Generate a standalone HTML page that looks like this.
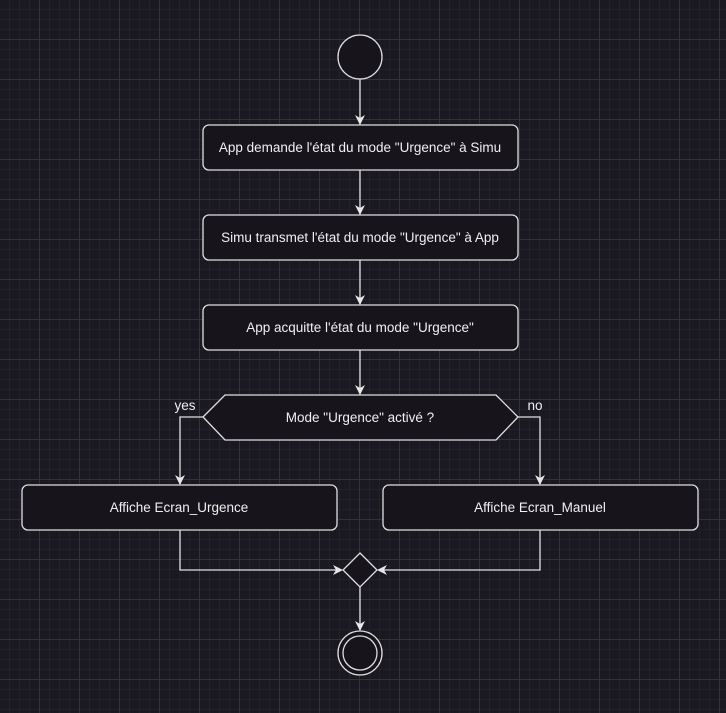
<!DOCTYPE html>
<html><head><meta charset="utf-8"><style>
html,body{margin:0;padding:0;}
body{width:726px;height:713px;overflow:hidden;background-color:#1a1820;
background-image:linear-gradient(#33313a 1px,transparent 1px),linear-gradient(90deg,#33313a 1px,transparent 1px),linear-gradient(#22202a 1px,transparent 1px),linear-gradient(90deg,#22202a 1px,transparent 1px);
background-size:40px 40px,40px 40px,10px 10px,10px 10px;background-position:-1px -1px;}
svg{position:absolute;left:0;top:0;}
text{font-family:"Liberation Sans",Arial,sans-serif;font-size:13.5px;fill:#f0f0f0;}
</style></head><body>
<svg width="726" height="713" viewBox="0 0 726 713">
<defs><marker id="a" markerWidth="10" markerHeight="10" refX="9" refY="5" orient="auto" markerUnits="userSpaceOnUse"><path d="M0,0 L10,5 L0,10 L3,5 z" fill="#e8e8e8"/></marker></defs>
<g stroke="#e0e0e0" stroke-width="1.3" fill="#17141c">
<circle cx="360" cy="57" r="22"/>
<rect x="203" y="125" width="315" height="45" rx="6"/>
<rect x="203" y="215" width="315" height="45" rx="6"/>
<rect x="203" y="305" width="315" height="45" rx="6"/>
<polygon points="203,417 225,395 496,395 518,417 496,440 225,440"/>
<rect x="22" y="485" width="315" height="45" rx="6"/>
<rect x="383" y="485" width="315" height="45" rx="6"/>
<polygon points="360,553 377,570 360,587 343,570"/>
<circle cx="360" cy="653" r="22"/>
<circle cx="360" cy="653" r="17"/>
</g>
<g stroke="#e0e0e0" stroke-width="1.3" fill="none" marker-end="url(#a)">
<path d="M360,79 V124"/>
<path d="M360,170 V214"/>
<path d="M360,260 V304"/>
<path d="M360,350 V394"/>
<path d="M203,417 H180 V484"/>
<path d="M518,417 H540 V484"/>
<path d="M180,530 V570 H342"/>
<path d="M540,530 V570 H378"/>
<path d="M360,587 V630"/>
</g>
<g text-anchor="middle">
<text x="360" y="152">App demande l'état du mode "Urgence" à Simu</text>
<text x="360" y="242">Simu transmet l'état du mode "Urgence" à App</text>
<text x="360" y="332">App acquitte l'état du mode "Urgence"</text>
<text x="360" y="422">Mode "Urgence" activé ?</text>
<text x="179" y="512">Affiche Ecran_Urgence</text>
<text x="540" y="512">Affiche Ecran_Manuel</text>
<text x="185" y="410">yes</text>
<text x="535" y="410">no</text>
</g>
</svg>
</body></html>
